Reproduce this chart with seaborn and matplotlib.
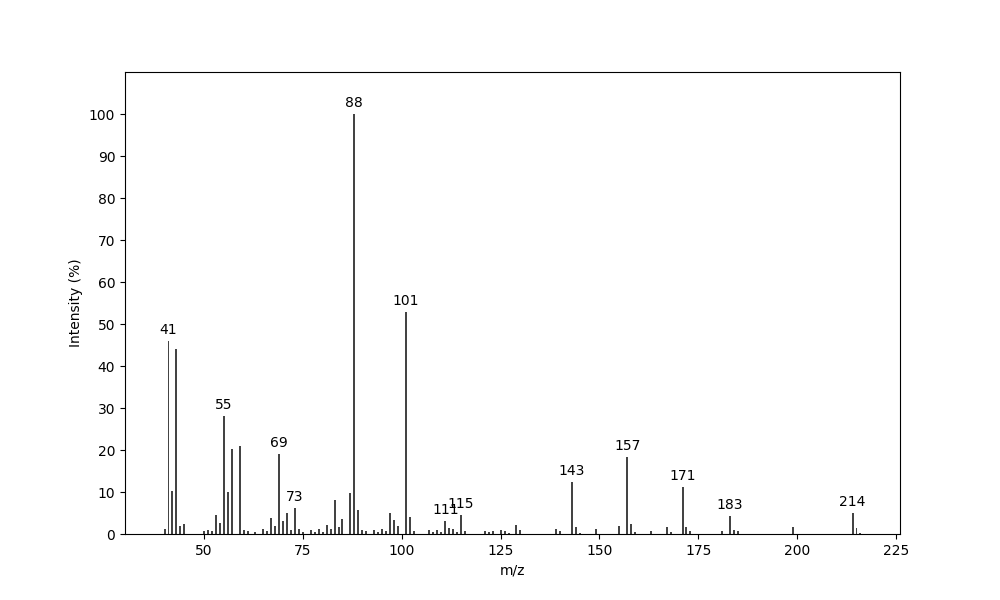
import numpy as np
import pandas as pd
import matplotlib
matplotlib.use("Agg")
import matplotlib.pyplot as plt
import seaborn as sns

# peak list (m/z, relative intensity %)
mz = [40, 41, 42, 43, 44, 45, 50, 51, 52, 53, 54, 55, 56, 57, 59, 60, 61, 63,
      65, 66, 67, 68, 69, 70, 71, 72, 73, 74, 75, 77, 78, 79, 80, 81, 82, 83,
      84, 85, 87, 88, 89, 90, 91, 93, 94, 95, 96, 97, 98, 99, 101, 102, 103,
      107, 108, 109, 110, 111, 112, 113, 114, 115, 116, 121, 122, 123, 125,
      126, 127, 129, 130, 139, 140, 143, 144, 145, 149, 155, 157, 158, 159,
      163, 167, 168, 171, 172, 173, 181, 183, 184, 185, 199, 214, 215, 216]
intensity = [1.2, 46.0, 10.2, 44.0, 1.9, 2.4, 0.8, 1.0, 0.8, 4.5, 2.6, 28.1,
             10.0, 20.2, 20.9, 1.0, 0.8, 0.5, 1.2, 0.8, 3.8, 1.9, 19.0, 3.1,
             5.0, 1.0, 6.2, 1.2, 0.5, 1.0, 0.5, 1.2, 0.5, 2.1, 1.2, 8.1, 1.7,
             3.6, 9.8, 100.0, 5.7, 1.0, 0.8, 1.0, 0.5, 1.2, 0.8, 5.0, 3.3, 1.9,
             52.9, 4.0, 0.8, 1.0, 0.5, 1.0, 0.5, 3.1, 1.4, 1.2, 0.5, 4.5, 0.7,
             0.7, 0.5, 0.7, 1.0, 0.7, 0.3, 2.1, 1.0, 1.2, 0.7, 12.4, 1.7, 0.3,
             1.2, 1.9, 18.3, 2.4, 0.5, 0.7, 1.7, 0.5, 11.2, 1.7, 0.7, 0.7, 4.3,
             1.0, 0.7, 1.7, 5.0, 1.4, 0.3]
labelled = [41, 55, 69, 73, 88, 101, 111, 115, 143, 157, 171, 183, 214]

df = pd.DataFrame({"mz": mz, "intensity": intensity})

fig, ax = plt.subplots(figsize=(10, 6), dpi=100)
sns.histplot(data=df, x="mz", weights="intensity", discrete=True, shrink=0.5,
             color="#444444", alpha=1, linewidth=0, ax=ax)

for m in labelled:
    h = df.loc[df["mz"] == m, "intensity"].iloc[0]
    ax.annotate(str(m), (m, h), xytext=(0, 3), textcoords="offset points",
                ha="center", va="bottom", fontsize=10)

ax.set_xlim(min(mz) - 10, max(mz) + 10)
ax.set_ylim(0, 110)
ax.set_yticks(np.arange(0, 101, 10))
ax.set_xlabel("m/z")
ax.set_ylabel("Intensity (%)")

fig.savefig("out.png", dpi=100)
